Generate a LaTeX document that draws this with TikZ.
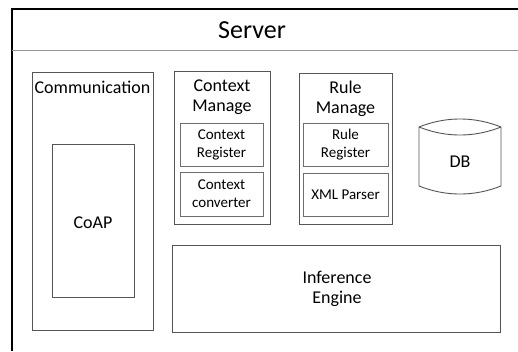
\documentclass[tikz,border=0pt]{standalone}
\usepackage{fontspec}
\setmainfont{Carlito}
\definecolor{boxline}{RGB}{85,85,85}
\definecolor{innerline}{RGB}{110,110,110}
\definecolor{sepline}{RGB}{150,150,150}
\begin{document}
\begin{tikzpicture}[x=1pt,y=-1pt,
  box/.style={draw=boxline,line width=0.9pt,inner sep=0pt},
  ibox/.style={draw=innerline,line width=0.9pt,inner sep=0pt},
  big/.style={font=\fontsize{18}{20}\selectfont,align=center,inner sep=0pt},
  small/.style={font=\fontsize{15}{18}\selectfont,align=center,inner sep=0pt}]
\useasboundingbox (0,0) rectangle (518,351);
\fill[white] (0,0) rectangle (518,351);
% outer frame
\coordinate (frTR) at (518,9);
\coordinate (frTL) at (12,9);
\coordinate (frBL) at (12,351);
\draw[line width=1.6pt,black] (frTR) -- (frTL) -- (frBL);
\coordinate (sepL) at (12,50);
\coordinate (sepR) at (518,50);
\draw[sepline,line width=1pt] (sepL) -- (sepR);
\node[font=\fontsize{26}{30}\selectfont,inner sep=0pt] (server) at (252,30) {Server};
% Communication
\node[box,minimum width=121pt,minimum height=258pt] (comm) at (92.5,201) {};
\node[big] (commt) at (92.5,87) {Communication};
\node[box,minimum width=82pt,minimum height=153pt] (coap) at (93,220.5) {};
\node[big] (coapt) at (93,223) {CoAP};
% Context manage
\node[box,minimum width=96pt,minimum height=153pt] (ctx) at (222,147.5) {};
\node[big] (ctxt) at (222,97.5) {Context\\Manage};
\node[ibox,minimum width=83pt,minimum height=43pt] (ctxreg) at (221.5,144.5) {};
\node[small] (ctxregt) at (221.5,144.5) {Context\\Register};
\node[ibox,minimum width=83pt,minimum height=44pt] (ctxconv) at (221.5,194) {};
\node[small] (ctxconvt) at (221.5,194) {Context\\converter};
% Rule manage
\node[box,minimum width=93pt,minimum height=151pt] (rule) at (345.5,148.5) {};
\node[big] (rulet) at (345.5,98.5) {Rule\\Manage};
\node[ibox,minimum width=85pt,minimum height=43pt] (rulereg) at (345.5,144.5) {};
\node[small] (ruleregt) at (345.5,144.5) {Rule\\Register};
\node[ibox,minimum width=85pt,minimum height=43pt] (xml) at (345.5,194.5) {};
\node[small] (xmlt) at (345.5,195) {XML Parser};
% DB
\coordinate (dbTL) at (419,127);
\coordinate (dbTR) at (501,127);
\coordinate (dbBL) at (419,186);
\coordinate (dbBR) at (501,186);
\draw[boxline,line width=0.9pt,fill=white]
  (dbTL) .. controls (446,116.3) and (474,116.3) .. (dbTR)
  -- (dbBR) .. controls (474,196.7) and (446,196.7) .. (dbBL) -- cycle;
\draw[boxline,line width=0.9pt] (dbTL) .. controls (446,137.7) and (474,137.7) .. (dbTR);
\node[big] (db) at (460,162) {DB};
% Inference
\node[box,minimum width=328pt,minimum height=87pt] (inf) at (336,288.5) {};
\node[big] (inft) at (337,288.5) {Inference\\Engine};
\end{tikzpicture}
\end{document}
